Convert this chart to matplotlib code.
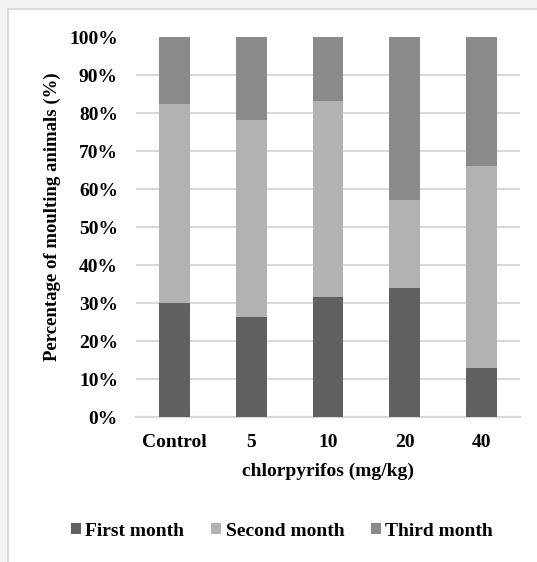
import matplotlib
matplotlib.use("Agg")
import matplotlib.pyplot as plt
import numpy as np
from matplotlib.patches import Rectangle
from matplotlib.ticker import PercentFormatter

doses = ['Control', '5', '10', '20', '40']
first_month = [30.0, 26.4, 31.6, 33.9, 13.0]
second_month = [52.4, 51.8, 51.6, 23.2, 53.2]
third_month = [17.6, 21.8, 16.8, 42.9, 33.8]

plt.rcParams['font.family'] = ['Liberation Serif', 'DejaVu Serif']
plt.rcParams['font.weight'] = 'bold'

W, H = 537, 562
fig = plt.figure(figsize=(W / 100, H / 100), dpi=100, facecolor='#f3f3f3')

# white panel with thin grey border
fig.patches.append(Rectangle((8 / W, -0.05), 1.1, 1 - 9 / H + 0.05,
                             transform=fig.transFigure, facecolor='white',
                             edgecolor='#d6d6d6', linewidth=1.2, zorder=-10))

ax = fig.add_axes([136 / W, 1 - 417 / H, (520 - 136) / W, (417 - 37.3) / H])
ax.set_facecolor('none')

x = np.arange(len(doses))
w = 0.4
first = np.array(first_month)
second = np.array(second_month)
third = np.array(third_month)

ax.bar(x, first, w, color='#606060', label='First month', zorder=3)
ax.bar(x, second, w, bottom=first, color='#b2b2b2', label='Second month', zorder=3)
ax.bar(x, third, w, bottom=first + second, color='#8a8a8a', label='Third month', zorder=3)

ax.set_xlim(-0.5, len(doses) - 0.5)
ax.set_ylim(0, 100)
ax.set_yticks(np.arange(0, 101, 10))
ax.yaxis.set_major_formatter(PercentFormatter(decimals=0))
ax.set_xticks(x, doses)

ax.grid(axis='y', color='#d9d9d9', linewidth=1.5, zorder=0)
ax.yaxis.get_gridlines()[-1].set_visible(False)
for s in ['top', 'right', 'left']:
    ax.spines[s].set_visible(False)
ax.spines['bottom'].set_color('#d9d9d9')
ax.spines['bottom'].set_linewidth(1.5)

ax.tick_params(axis='both', length=0, labelsize=14)
ax.tick_params(axis='y', pad=13)
ax.tick_params(axis='x', pad=12)

ax.set_xlabel('chlorpyrifos (mg/kg)', fontsize=14, fontweight='bold')
ax.xaxis.set_label_coords((328 - 136) / (520 - 136), (417 - 463) / (417 - 37.3))
ax.set_ylabel('Percentage of moulting animals (%)', fontsize=13.5, fontweight='bold')
ax.yaxis.set_label_coords((61 - 136) / (520 - 136), (417 - 217) / (417 - 37.3))

fig.legend(loc='center', bbox_to_anchor=(282 / W, 1 - 531 / H), ncol=3,
           frameon=False, fontsize=14, handlelength=0.51, handleheight=0.51,
           handletextpad=0.24, columnspacing=1.37)

fig.savefig('out.png', dpi=100, facecolor=fig.get_facecolor())
